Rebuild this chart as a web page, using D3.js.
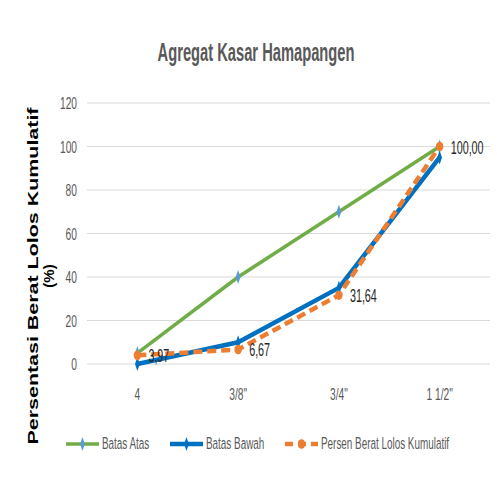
<!DOCTYPE html>
<html>
<head>
<meta charset="utf-8">
<script src="https://cdn.jsdelivr.net/npm/d3@7"></script>
<style>
body { margin:0; background:#fff; }
svg text { font-family: "Liberation Sans", Arial, sans-serif; }
</style>
</head>
<body>
<div id="chart"></div>
<script>
var sizes = ["4", "3/8\"", "3/4\"", "1 1/2\""];
var batasAtas = [5, 40, 70, 100];
var batasBawah = [0, 10, 35, 95];
var persenLolos = [3.97, 6.67, 31.64, 100.00];
var yTicks = [0, 20, 40, 60, 80, 100, 120];

var W = 497, H = 479;
var svg = d3.select("#chart").append("svg").attr("width", W).attr("height", H);

var x = d3.scaleBand().domain(sizes).range([87, 490]);
var y = d3.scaleLinear().domain([0, 120]).range([364, 103]);
function cx(d){ return x(d) + x.bandwidth()/2; }

// narrow text, like the squashed original
function narrowText(g, px, py, str, sx, anchor){
    return g.append("text")
        .attr("transform", "translate(" + px + "," + py + ") scale(" + sx + ",1)")
        .attr("text-anchor", anchor || "start")
        .text(str);
}

// title, squeezed to the width it has in the original
var title = narrowText(svg, 256, 61, "Agregat Kasar Hamapangen", 1, "middle")
    .attr("font-size", 26).attr("fill", "#595959")
    .attr("font-family", "Open Sans").attr("font-weight", 600);
var tw = title.node().getComputedTextLength();
title.attr("transform", "translate(256,61) scale(" + (197 / tw) + ",1)");

// gridlines
svg.append("g").selectAll("line").data(yTicks).enter().append("line")
    .attr("x1", 87).attr("x2", 490)
    .attr("y1", function(d){ return y(d); }).attr("y2", function(d){ return y(d); })
    .attr("stroke", "#d9d9d9").attr("stroke-width", 1);

// y tick labels
var yl = svg.append("g").attr("font-size", 16.5).attr("fill", "#595959");
yTicks.forEach(function(t){
    narrowText(yl, 77, y(t) + 6, String(t), 0.62, "end");
});

// x tick labels
var xl = svg.append("g").attr("font-size", 16.5).attr("fill", "#595959");
sizes.forEach(function(s){
    narrowText(xl, cx(s), 400, s, 0.62, "middle");
});

// y axis title
var yt = svg.append("g").attr("transform", "translate(0,276) rotate(-90)")
    .attr("font-weight", "bold").attr("fill", "#000");
yt.append("text").attr("x", 0).attr("y", 38).attr("text-anchor", "middle")
    .attr("font-size", 15).attr("font-family", "DejaVu Sans")
    .attr("textLength", 337).attr("lengthAdjust", "spacingAndGlyphs")
    .text("Persentasi Berat Lolos Kumulatif");
yt.append("text").attr("x", 0).attr("y", 54).attr("text-anchor", "middle")
    .attr("font-size", 15).attr("font-family", "DejaVu Sans")
    .text("(%)");

var line = d3.line()
    .x(function(d, i){ return cx(sizes[i]); })
    .y(function(d){ return y(d); });

var series = [
    {name:"Batas Atas", values:batasAtas, color:"#70AD47", width:3.5, dash:null, mcolor:"#5B9BD5", marker:"diamond"},
    {name:"Batas Bawah", values:batasBawah, color:"#0070C0", width:4.5, dash:null, mcolor:"#0070C0", marker:"diamond"},
    {name:"Persen Berat Lolos Kumulatif", values:persenLolos, color:"#ED7D31", width:4.5, dash:"9,5", mcolor:"#ED7D31", marker:"circle"}
];

var sym = {
    diamond: d3.symbol().type(d3.symbolDiamond).size(40),
    circle: d3.symbol().type(d3.symbolCircle).size(60)
};
function symScale(m){ return m == "diamond" ? "scale(0.7,1.2)" : "scale(0.85,1.1)"; }

series.forEach(function(s){
    svg.append("path").datum(s.values)
        .attr("d", line)
        .attr("fill", "none")
        .attr("stroke", s.color)
        .attr("stroke-width", s.width)
        .attr("stroke-dasharray", s.dash)
        .attr("stroke-linejoin", "round");
    svg.append("g").selectAll("path").data(s.values).enter().append("path")
        .attr("d", sym[s.marker])
        .attr("transform", function(d, i){
            return "translate(" + cx(sizes[i]) + "," + y(d) + ") " + symScale(s.marker);
        })
        .attr("fill", s.mcolor);
});

// data labels for the measured series
var dl = svg.append("g").attr("font-size", 18).attr("fill", "#262626");
persenLolos.forEach(function(v, i){
    narrowText(dl, cx(sizes[i]) + 11, y(v) + 7, v.toFixed(2).replace(".", ","), 0.6, "start");
});

// legend
var legendX = [66, 170, 285];
var lg = svg.append("g");
series.forEach(function(s, i){
    var lx = legendX[i], ly = 444;
    lg.append("line").attr("x1", lx).attr("x2", lx + 33).attr("y1", ly).attr("y2", ly)
        .attr("stroke", s.color).attr("stroke-width", s.width)
        .attr("stroke-dasharray", s.dash ? "8,5" : null);
    lg.append("path").attr("d", sym[s.marker])
        .attr("transform", "translate(" + (lx + 16.5) + "," + ly + ") " + symScale(s.marker))
        .attr("fill", s.mcolor);
    narrowText(lg, lx + 36, 449, s.name, 0.6, "start")
        .attr("font-size", 16.5).attr("fill", "#595959");
});
</script>
</body>
</html>
